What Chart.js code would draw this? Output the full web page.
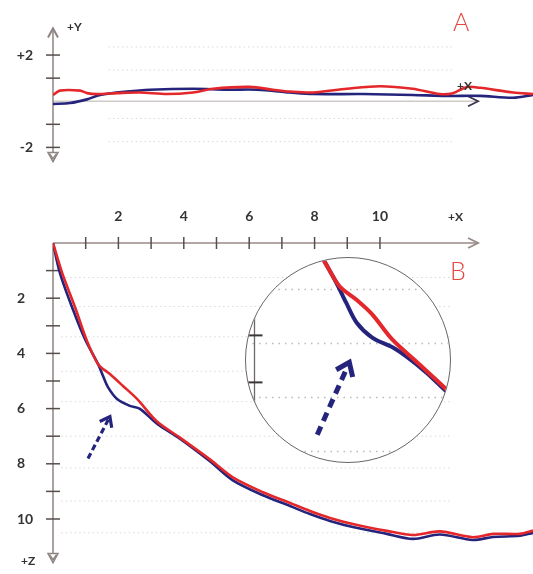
<!DOCTYPE html>
<html>
<head>
<meta charset="utf-8">
<script src="https://cdn.jsdelivr.net/npm/chart.js@4.4.1/dist/chart.umd.min.js"></script>
<style>
	html, body { margin:0; padding:0; background:#fff; }
	#wrap { position:relative; width:533px; height:574px; overflow:hidden; font-family:Lato, 'Open Sans', sans-serif; }
	#topCanvas { position:absolute; left:0; top:0; }
	#sideCanvas { position:absolute; left:0; top:190px; }
	#lens { position:absolute; left:245px; top:257px; width:204px; height:204px; border:1.5px solid #666; border-radius:50%; overflow:hidden; background:#fff; }
	#lensCanvas { display:block; }
	.tag { position:absolute; line-height:1; color:#333; font-size:12px; font-weight:700; }
	.big { position:absolute; line-height:1; color:#e5453f; font-size:25px; font-weight:300; }
</style>
</head>
<body>
<div id="wrap">
	<canvas id="topCanvas" width="533" height="190"></canvas>
	<canvas id="sideCanvas" width="533" height="384"></canvas>
	<div id="lens"><canvas id="lensCanvas" width="204" height="204"></canvas></div>
	<div class="big" style="left:453px; top:9px;">A</div>
	<div class="big" style="left:450px; top:258px;">B</div>
	<div class="tag" style="left:67px; top:21px;">+Y</div>
	<div class="tag" style="left:457px; top:80px;">+X</div>
	<div class="tag" style="left:448px; top:211px;">+X</div>
	<div class="tag" style="left:21px; top:555px;">+Z</div>
</div>
<script>
/* A : 위에서 본 궤적 [x, y] */
const topBlue = [[0,-0.12],[0.52,-0.08],[1.04,0.08],[1.44,0.27],[2.26,0.42],[2.97,0.5],[4.28,0.54],[5.32,0.5],[6.24,0.5],[7.25,0.38],[7.95,0.31],[9.48,0.31],[11.0,0.27],[12.05,0.23],[13.06,0.23],[14.07,0.15],[14.68,0.27]]
const topRed = [[0,0.27],[0.21,0.46],[0.83,0.46],[1.04,0.35],[1.35,0.31],[1.96,0.35],[2.66,0.38],[3.49,0.31],[4.28,0.38],[4.89,0.54],[6.02,0.62],[6.73,0.5],[7.25,0.42],[7.95,0.38],[8.99,0.54],[10.0,0.65],[11.0,0.54],[11.83,0.31],[12.23,0.35],[12.66,0.62],[13.06,0.58],[14.07,0.38],[14.68,0.31]]
const topTicks = [-2, -1, 0, 1, 2]
const topTickLabels = ['-2', '', '', '', '+2']
const topGrid = [2.35, 1.35, -0.75, -1.75]

/* B : 옆에서 본 궤적 [x, z] */
const sideBlue = [[0,0],[0.21,1.08],[0.61,2.41],[0.98,3.49],[1.38,4.39],[1.53,4.82],[1.68,5.22],[1.96,5.65],[2.35,5.9],[2.66,6.01],[3.18,6.55],[3.88,7.09],[4.8,7.91],[5.5,8.6],[6.42,9.14],[7.25,9.53],[7.86,9.82],[8.47,10.07],[9.17,10.29],[10.21,10.54],[11.01,10.72],[11.83,10.56],[12.84,10.76],[13.46,10.65],[14.28,10.61],[14.68,10.5]]
const sideRed = [[0,0],[0.28,1.08],[0.7,2.41],[1.02,3.49],[1.38,4.39],[1.74,4.75],[2.14,5.18],[2.57,5.65],[3.18,6.47],[3.88,7.05],[4.8,7.84],[5.5,8.49],[6.42,9.03],[7.25,9.42],[7.86,9.71],[8.47,9.96],[9.17,10.18],[10.21,10.43],[11.01,10.58],[11.83,10.45],[12.84,10.66],[13.46,10.54],[14.28,10.54],[14.68,10.42]]
const sideTicksX = [1, 2, 3, 4, 5, 6, 7, 8, 9, 10]
const sideLabelsX = ['', '2', '', '4', '', '6', '', '8', '', '10']
const sideTicksZ = [1, 2, 3, 4, 5, 6, 7, 8, 9, 10]
const sideLabelsZ = ['', '2', '', '4', '', '6', '', '8', '', '10']
const sideGrid = [1.25, 2.3, 3.4, 4.65, 5.75, 7.0, 8.15, 9.35, 10.5]

/* 확대 원 안의 궤적 */
const lensBlue = [[1.27,4.26],[1.38,4.48],[1.56,4.87],[1.71,5.24],[1.87,5.61],[2.11,5.89],[2.42,6.07],[2.63,6.24],[2.94,6.54],[3.21,6.85],[3.37,7.03]]
const lensRed = [[1.27,4.26],[1.38,4.48],[1.61,4.94],[1.87,5.19],[2.11,5.46],[2.42,5.93],[2.78,6.33],[3.21,6.81],[3.37,7.0]]
const lensGrid = [5, 6, 7, 8]
const lensTicks = [5.85, 6.72]

/* 점선 화살표 [꼬리, 머리] */
const pointerSide = [[1.07,7.81],[1.74,6.29]]
const pointerLens = [[1.27,7.69],[1.76,6.35]]

const RED = '#e3272b'
const BLUE = '#24247c'

function pts(arr){
	return arr.map(p => ({x : p[0], y : p[1]}))
}

function seg(ctx, x1, y1, x2, y2){
	ctx.beginPath()
	ctx.moveTo(x1, y1)
	ctx.lineTo(x2, y2)
	ctx.stroke()
}

/* 화살촉 (열린 모양) */
function head(ctx, tx, ty, dx, dy, len, half){
	let bx = tx - dx*len, by = ty - dy*len
	let nx = -dy, ny = dx
	ctx.beginPath()
	ctx.moveTo(bx + nx*half, by + ny*half)
	ctx.lineTo(tx, ty)
	ctx.lineTo(bx - nx*half, by - ny*half)
	ctx.stroke()
}

/* 손으로 그린 듯한 축, 눈금, 점선 격자 */
const sketchAxes = {
	id : 'sketchAxes'
	,beforeDatasetsDraw(chart, args, opt){
		const ctx = chart.ctx
		const sx = chart.scales.x
		const sy = chart.scales.y
		const x0 = sx.getPixelForValue(0)
		const y0 = sy.getPixelForValue(0)
		ctx.save()

		ctx.strokeStyle = '#d9d9d9'
		ctx.lineWidth = 1
		ctx.setLineDash([1.5, 3])
		for(let v of opt.grid){
			let py = sy.getPixelForValue(v)
			seg(ctx, sx.getPixelForValue(opt.gridFrom), py, sx.getPixelForValue(opt.gridTo), py)
		}
		ctx.setLineDash([])

		/* x축 */
		let xEnd = sx.getPixelForValue(opt.xEnd)
		ctx.strokeStyle = opt.xColor
		ctx.lineWidth = 1.5
		seg(ctx, x0, y0, xEnd, y0)
		ctx.strokeStyle = opt.xHeadColor
		ctx.lineWidth = 1.8
		head(ctx, xEnd, y0, 1, 0, 10, 5)

		/* y축 */
		let yTop = sy.getPixelForValue(opt.yTop)
		let yBot = sy.getPixelForValue(opt.yBot)
		let top = Math.min(yTop, yBot), bot = Math.max(yTop, yBot)
		ctx.strokeStyle = '#8e8482'
		ctx.lineWidth = 1.5
		seg(ctx, x0, top, x0, bot)
		if(opt.upArrow){
			ctx.lineWidth = 2
			head(ctx, x0, top, 0, -1, 9, 5)
		}
		ctx.lineWidth = 1.5
		ctx.fillStyle = '#fff'
		ctx.beginPath()
		ctx.moveTo(x0, bot)
		ctx.lineTo(x0 - 5, bot - 9)
		ctx.lineTo(x0 + 5, bot - 9)
		ctx.closePath()
		ctx.fill()
		ctx.stroke()
		head(ctx, x0, bot - 3, 0, 1, 5, 3.5)

		/* 눈금 */
		ctx.strokeStyle = '#574e4c'
		ctx.lineWidth = 1.5
		for(let v of opt.xMarks){
			let px = sx.getPixelForValue(v)
			seg(ctx, px, y0 - 6, px, y0 + 6)
		}
		for(let v of opt.yMarks){
			let py = sy.getPixelForValue(v)
			seg(ctx, x0 - 7, py, x0 + 7, py)
		}
		ctx.restore()
	}
}

/* 점선 화살표 */
const pointerArrow = {
	id : 'pointerArrow'
	,afterDatasetsDraw(chart, args, opt){
		if(!opt.path) return
		const ctx = chart.ctx
		const sx = chart.scales.x
		const sy = chart.scales.y
		let x1 = sx.getPixelForValue(opt.path[0][0]), y1 = sy.getPixelForValue(opt.path[0][1])
		let x2 = sx.getPixelForValue(opt.path[1][0]), y2 = sy.getPixelForValue(opt.path[1][1])
		let len = Math.hypot(x2 - x1, y2 - y1)
		let dx = (x2 - x1)/len, dy = (y2 - y1)/len
		ctx.save()
		ctx.strokeStyle = BLUE
		ctx.lineWidth = opt.width
		ctx.lineCap = 'butt'
		ctx.setLineDash(opt.dash)
		seg(ctx, x1, y1, x2 - dx*opt.width, y2 - dy*opt.width)
		ctx.setLineDash([])
		ctx.lineJoin = 'miter'
		head(ctx, x2, y2, dx, dy, opt.head, opt.head*0.75)
		ctx.restore()
	}
}

/* 확대 원 안의 격자와 눈금자 */
const lensMarks = {
	id : 'lensMarks'
	,beforeDatasetsDraw(chart, args, opt){
		const ctx = chart.ctx
		const sx = chart.scales.x
		const sy = chart.scales.y
		ctx.save()
		ctx.strokeStyle = '#b9b9b9'
		ctx.lineWidth = 1.3
		ctx.setLineDash([1.5, 5])
		for(let v of opt.grid){
			let py = sy.getPixelForValue(v)
			seg(ctx, 0, py, chart.width, py)
		}
		ctx.setLineDash([])
		let rx = sx.getPixelForValue(opt.ruler)
		ctx.strokeStyle = '#6f6866'
		ctx.lineWidth = 1.3
		seg(ctx, rx, 0, rx, chart.height)
		ctx.strokeStyle = '#3d3636'
		ctx.lineWidth = 2
		for(let v of opt.ticks){
			let py = sy.getPixelForValue(v)
			seg(ctx, rx - 9, py, rx + 8, py)
		}
		ctx.restore()
	}
}

function line(data, color, width){
	return {
		data : pts(data)
		,borderColor : color
		,borderWidth : width
		,pointRadius : 0
		,tension : 0.3
		,fill : false
	}
}

function fixTicks(values){
	return function(scale){
		scale.ticks = values.map(v => ({value : v}))
	}
}

const baseOptions = {
	responsive : false
	,animation : false
	,events : []
}

/* A 차트 */
new Chart(document.getElementById('topCanvas'), {
	type : 'line'
	,data : {
		datasets : [
			line(topRed, RED, 2.6)
			,line(topBlue, BLUE, 2.6)
		]
	}
	,options : {
		...baseOptions
		,layout : { padding : { left : 0, top : 28, right : 0, bottom : 12 } }
		,plugins : {
			legend : { display : false }
			,tooltip : { enabled : false }
			,sketchAxes : {
				grid : topGrid, gridFrom : 1.7, gridTo : 12.2
				,xEnd : 13.0, xColor : '#cfc9c9', xHeadColor : '#3c3450'
				,yTop : 3.154, yBot : -2.615, upArrow : true
				,xMarks : [], yMarks : [-2, -1, 1, 2]
			}
		}
		,scales : {
			x : { type : 'linear', display : false, min : 0, max : 14.68 }
			,y : {
				type : 'linear', min : -2.615, max : 3.154
				,afterBuildTicks : fixTicks(topTicks)
				,afterFit : s => { s.width = 53 }
				,border : { display : false }
				,grid : { display : false, drawTicks : false }
				,ticks : {
					padding : 20
					,color : '#333'
					,font : { family : 'Lato', size : 14, weight : 'bold' }
					,callback : (v, i) => topTickLabels[i]
				}
			}
		}
	}
	,plugins : [sketchAxes]
})

/* B 차트 */
new Chart(document.getElementById('sideCanvas'), {
	type : 'line'
	,data : {
		datasets : [
			line(sideRed, RED, 2.6)
			,line(sideBlue, BLUE, 2.6)
		]
	}
	,options : {
		...baseOptions
		,layout : { padding : { left : 17, top : 0, right : 0, bottom : 9 } }
		,plugins : {
			legend : { display : false }
			,tooltip : { enabled : false }
			,sketchAxes : {
				grid : sideGrid, gridFrom : 0.25, gridTo : 12.2
				,xEnd : 13.0, xColor : '#978b87', xHeadColor : '#978b87'
				,yTop : 0, yBot : 11.58, upArrow : false
				,xMarks : sideTicksX, yMarks : sideTicksZ
			}
			,pointerArrow : { path : pointerSide, width : 3.2, dash : [6, 3.5], head : 9 }
		}
		,scales : {
			x : {
				type : 'linear', position : 'top', min : 0, max : 14.68
				,afterBuildTicks : fixTicks(sideTicksX)
				,afterFit : s => { s.height = 53 }
				,border : { display : false }
				,grid : { display : false, drawTicks : false }
				,ticks : {
					padding : 18, autoSkip : false, maxRotation : 0
					,color : '#333'
					,font : { family : 'Lato', size : 14, weight : 'bold' }
					,callback : (v, i) => sideLabelsX[i]
				}
			}
			,y : {
				type : 'linear', reverse : true, min : 0, max : 11.58
				,afterBuildTicks : fixTicks(sideTicksZ)
				,afterFit : s => { s.width = 36 }
				,border : { display : false }
				,grid : { display : false, drawTicks : false }
				,ticks : {
					crossAlign : 'far', autoSkip : false
					,color : '#333'
					,font : { family : 'Lato', size : 14, weight : 'bold' }
					,callback : (v, i) => sideLabelsZ[i]
				}
			}
		}
	}
	,plugins : [sketchAxes, pointerArrow]
})

/* 확대 원 차트 */
new Chart(document.getElementById('lensCanvas'), {
	type : 'line'
	,data : {
		datasets : [
			line(lensRed, RED, 4)
			,line(lensBlue, BLUE, 4)
		]
	}
	,options : {
		...baseOptions
		,layout : { padding : 0 }
		,plugins : {
			legend : { display : false }
			,tooltip : { enabled : false }
			,lensMarks : { grid : lensGrid, ruler : 0.31, ticks : lensTicks }
			,pointerArrow : { path : pointerLens, width : 5, dash : [9, 6], head : 12 }
		}
		,scales : {
			x : { type : 'linear', display : false, min : 0.18, max : 3.3 }
			,y : { type : 'linear', display : false, reverse : true, min : 4.417, max : 8.194 }
		}
	}
	,plugins : [lensMarks, pointerArrow]
})
</script>
</body>
</html>
